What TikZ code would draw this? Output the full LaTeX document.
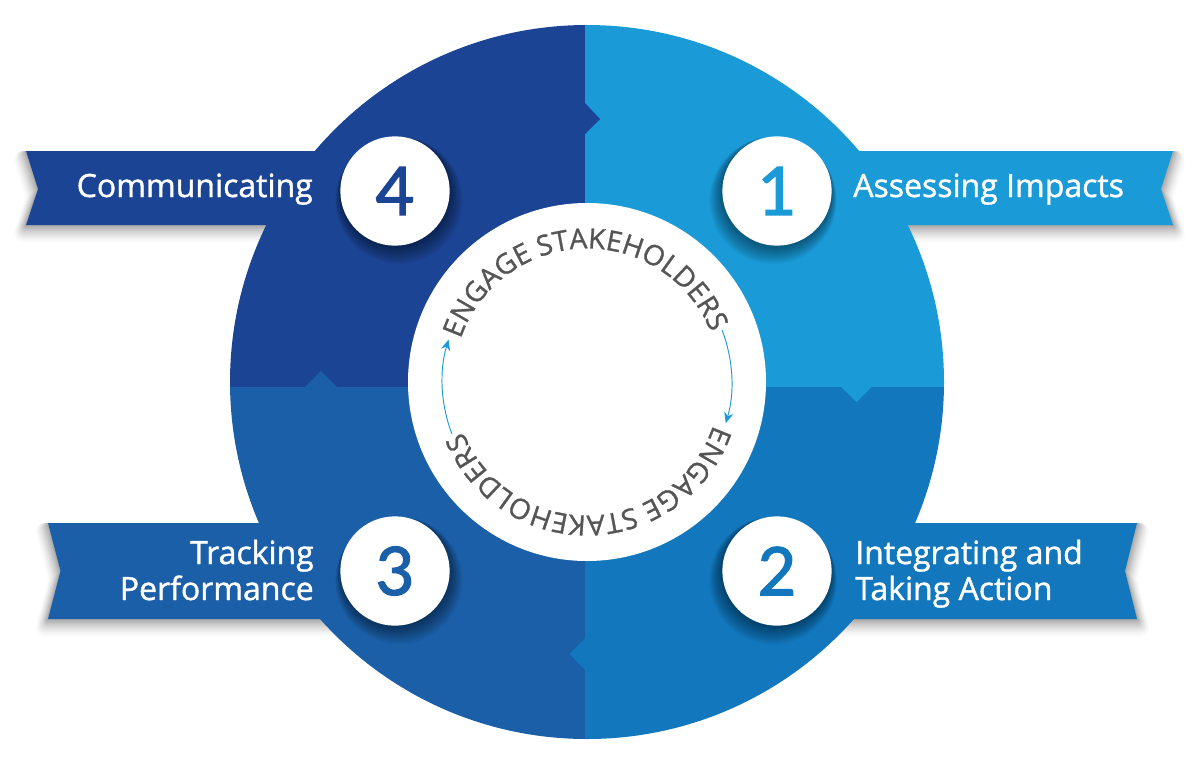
\documentclass[tikz,border=0pt]{standalone}
\usepackage{fontspec}
\usetikzlibrary{decorations.text,arrows.meta}
\setmainfont{Open Sans}
\newfontfamily\labelfont[FakeBold=1.2]{Open Sans}
\newfontfamily\ringfont[FakeBold=1.0]{Open Sans}
\newfontfamily\digitfont[FakeBold=2.0]{Lato}
\definecolor{stepone}{HTML}{1A9BD8}
\definecolor{steptwo}{HTML}{1277BC}
\definecolor{stepthree}{HTML}{1B5FA8}
\definecolor{stepfour}{HTML}{1B4594}
\definecolor{ringtext}{HTML}{555555}
\tikzset{
	numdisc/.style={circle,fill=white,minimum size=82pt,inner sep=0pt,font=\digitfont\fontsize{50}{50}\selectfont},
	steplabel/.style={text=white,inner sep=0pt,font=\labelfont\fontsize{24}{27}\selectfont},
	ringarrow/.style={draw=stepone,line width=0.7pt,-{Stealth[length=8pt,width=7pt]}},
	ringtitle/.style={decorate,decoration={text along path,text align=center,
		text={|\ringfont\fontsize{21}{21}\selectfont\color{ringtext}|ENGAGE STAKEHOLDERS}}},
}
%ribbon shadows lie on white only, so plain greys will do
\newcommand{\ribbonshadow}[2]{%
	\foreach \t [evaluate=\t as \p using {36*(1-\t/9.5)^1.5}] in {9,8.5,...,0.5}{
		\filldraw[draw=black!\p!white,fill=black!\p!white,line width=1.5*\t pt,line join=round,shift={(#1*0.4*\t,\t)}] #2;
	}
}
\newcommand{\discshadow}[2]{%
	\foreach \t in {1,2,...,16}{
		\fill[black,opacity=0.032] (#2) ++(#1*0.25*\t,0.6*\t) circle [radius=54+0.6*\t];
	}
}
\begin{document}
\begin{tikzpicture}[x=0.75pt,y=0.75pt,yscale=-1,xscale=1]
	\useasboundingbox (0,0) rectangle (1200,769);

	%ribbon shadows, these stay under the wheel
	\ribbonshadow{1}{(820,151) -- (1173,151) -- (1161,189) -- (1173,225) -- (820,225) -- cycle}
	\ribbonshadow{-1}{(350,151) -- (26,151) -- (38,189) -- (26,225) -- (350,225) -- cycle}
	\ribbonshadow{1}{(820,523) -- (1137,523) -- (1125,571) -- (1137,619) -- (820,619) -- cycle}
	\ribbonshadow{-1}{(350,523) -- (48,523) -- (60.5,571) -- (48,619) -- (350,619) -- cycle}

	%wheel quarters
	\begin{scope}
		\clip (587,382) circle [radius=357];
		\fill[stepone] (585,0) rectangle (960,387);
		\fill[steptwo] (585,387) rectangle (960,769);
		\fill[stepthree] (200,387) rectangle (585,769);
		\fill[stepfour] (200,0) rectangle (585,387);
		%notches
		\fill[stepfour] (585,103) -- (600,119) -- (585,134) -- cycle;
		\fill[stepone] (841.5,387) -- (856.5,402) -- (871.5,387) -- cycle;
		\fill[steptwo] (585,638) -- (569.5,654) -- (585,670) -- cycle;
		\fill[stepthree] (305,387) -- (321,371) -- (337,387) -- cycle;
	\end{scope}

	%ribbons
	\fill[stepone] (777,151) -- (1173,151) -- (1161,189) -- (1173,225) -- (777,225) -- cycle;
	\fill[stepfour] (395,151) -- (26,151) -- (38,189) -- (26,225) -- (395,225) -- cycle;
	\fill[steptwo] (777,523) -- (1137,523) -- (1125,571) -- (1137,619) -- (777,619) -- cycle;
	\fill[stepthree] (395,523) -- (48,523) -- (60.5,571) -- (48,619) -- (395,619) -- cycle;

	%middle
	\fill[white] (587,382) circle [radius=179];
	\path[ringtitle] (587,382) ++(200:133.5) arc [start angle=200,end angle=337,radius=133.5];
	\path[ringtitle] (587,382) ++(20:133.5) arc [start angle=20,end angle=157,radius=133.5];
	\draw[ringarrow] (587,382) ++(-21:144.7) arc [start angle=-21,end angle=16.5,radius=144.7];
	\draw[ringarrow] (587,382) ++(159:144.7) arc [start angle=159,end angle=197,radius=144.7];

	%number discs
	\discshadow{-1}{777,191}
	\discshadow{-1}{777,571}
	\discshadow{1}{395,571}
	\discshadow{1}{395,191}
	\node[numdisc,text=stepone] (disc1) at (777,191) {1};
	\node[numdisc,text=steptwo] (disc2) at (777,571) {2};
	\node[numdisc,text=stepthree] (disc3) at (395,571) {3};
	\node[numdisc,text=stepfour] (disc4) at (395,191) {4};

	%labels
	\node[steplabel,anchor=base west] (label1) at (853,197) {Assessing Impacts};
	\node[steplabel,anchor=base west,align=left] (label2) at (855,600) {Integrating and\\Taking Action};
	\node[steplabel,anchor=base east,align=right] (label3) at (314,600) {Tracking\\Performance};
	\node[steplabel,anchor=base east] (label4) at (313,197) {Communicating};
\end{tikzpicture}
\end{document}
